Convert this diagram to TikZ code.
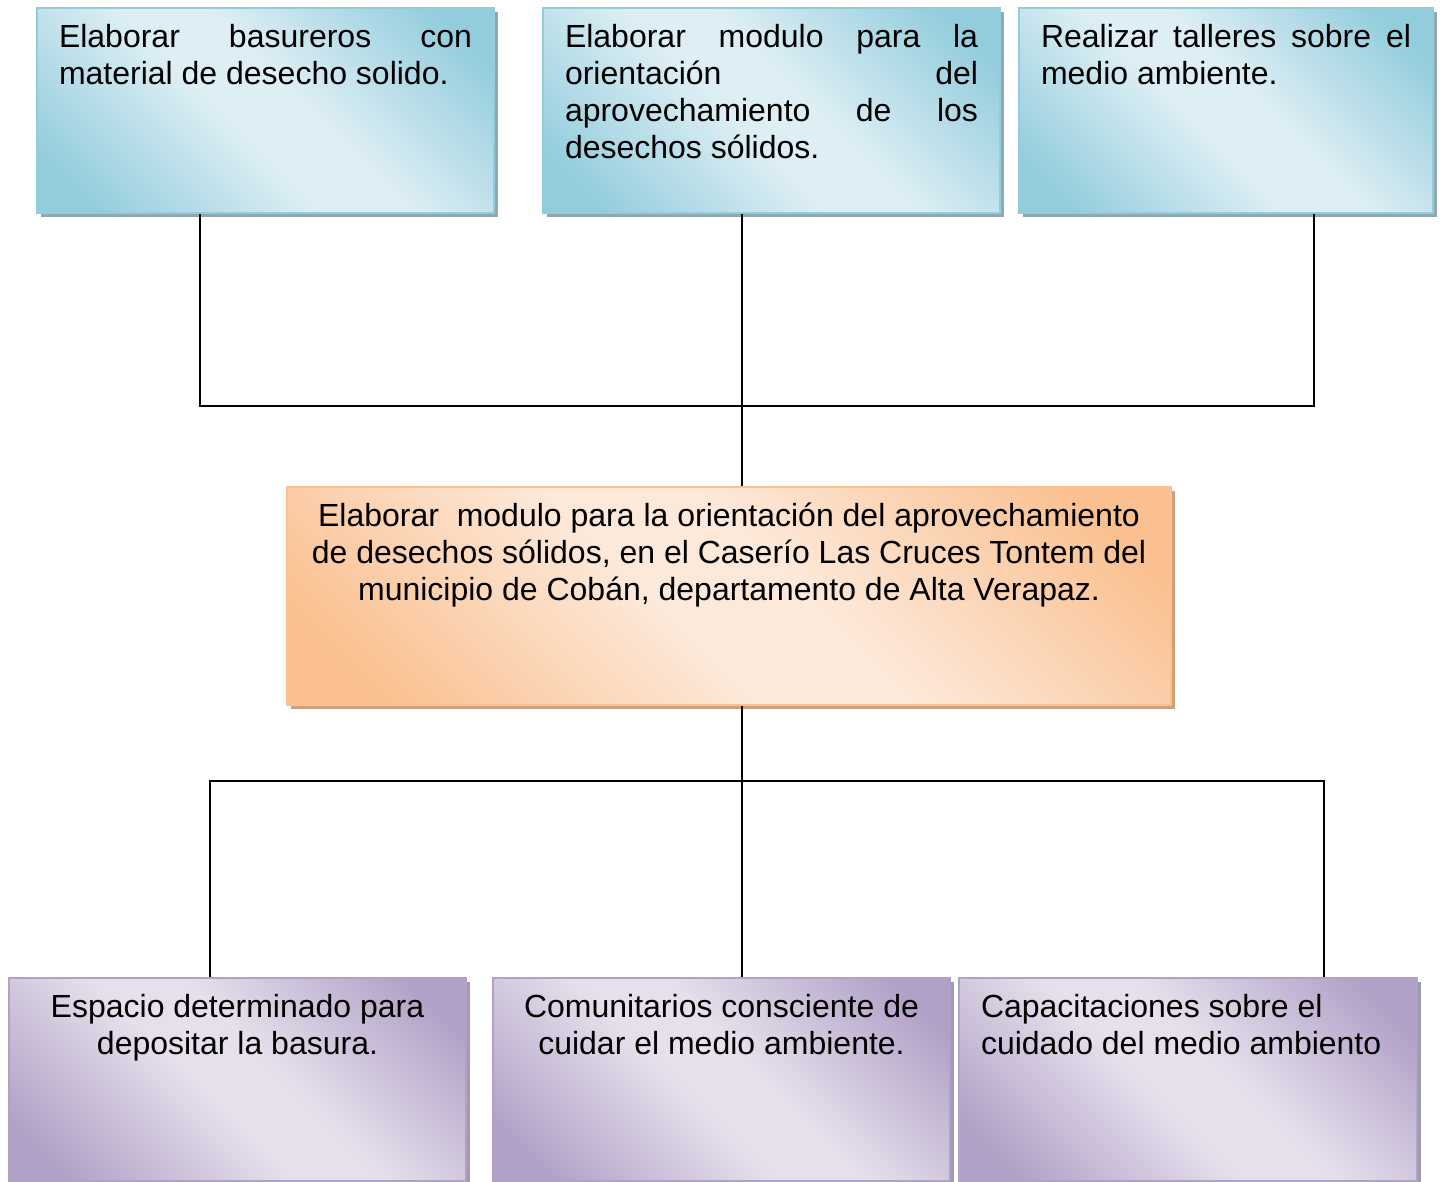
\documentclass[tikz,border=0pt]{standalone}
\usepackage{fontspec}
\setmainfont{Liberation Sans}
\usetikzlibrary{shadows}
\definecolor{bdark}{HTML}{93CDDD}
\definecolor{blight}{HTML}{DDEEF4}
\definecolor{bshadow}{HTML}{8FA8B2}
\definecolor{odark}{HTML}{FAC090}
\definecolor{olight}{HTML}{FDE9DA}
\definecolor{oshadow}{HTML}{CDA07E}
\definecolor{pdark}{HTML}{B2A1C7}
\definecolor{plight}{HTML}{E5E0EC}
\definecolor{pshadow}{HTML}{A29BAD}
\pgfdeclareverticalshading{blueshade}{100bp}{color(0bp)=(bdark); color(21bp)=(bdark); color(45bp)=(blight); color(55bp)=(blight); color(79bp)=(bdark); color(100bp)=(bdark)}
\pgfdeclareverticalshading{orangeshade}{100bp}{color(0bp)=(odark); color(21bp)=(odark); color(45bp)=(olight); color(55bp)=(olight); color(79bp)=(odark); color(100bp)=(odark)}
\pgfdeclareverticalshading{purpleshade}{100bp}{color(0bp)=(pdark); color(21bp)=(pdark); color(45bp)=(plight); color(55bp)=(plight); color(79bp)=(pdark); color(100bp)=(pdark)}
\newcommand\boxtxt[3]{\parbox[t][#1][t]{#2}{\fontsize{16pt}{18.5pt}\selectfont\leavevmode\strut#3}}
\newcommand\jline[1]{\makebox[\linewidth][s]{#1}}
\tikzset{
  box/.style={rectangle, inner xsep=11pt, inner ysep=7pt, anchor=north west, line width=1pt},
  bluebox/.style={box, draw=bdark, shade, shading=blueshade, shading angle=-45,
    drop shadow={shadow xshift=2pt, shadow yshift=-2pt, fill=bshadow, opacity=1}},
  orangebox/.style={box, draw=odark, shade, shading=orangeshade, shading angle=-45,
    drop shadow={shadow xshift=2pt, shadow yshift=-2pt, fill=oshadow, opacity=1}},
  purplebox/.style={box, draw=pdark, shade, shading=purpleshade, shading angle=-45,
    drop shadow={shadow xshift=2pt, shadow yshift=-2pt, fill=pshadow, opacity=1}},
  conn/.style={draw=black, line width=0.8pt}
}
\begin{document}
\begin{tikzpicture}[x=0.5pt,y=-0.5pt]
\useasboundingbox[fill=white] (0,0) rectangle (1440,1182);
% junction coordinates
\coordinate (c1) at (200,406);
\coordinate (c3) at (1314,406);
\coordinate (ja) at (742,406);
\coordinate (d1) at (210,781);
\coordinate (d3) at (1324,781);
\coordinate (jb) at (742,781);
% boxes
\node[bluebox] (t1) at (36,7) {\boxtxt{88.5pt}{206.5pt}{\jline{Elaborar basureros con}\\material de desecho solido.}};
\node[bluebox] (t2) at (542,7) {\boxtxt{88.5pt}{206.5pt}{\jline{Elaborar modulo para la}\\\jline{orientación del}\\\jline{aprovechamiento de los}\\desechos sólidos.}};
\node[bluebox] (t3) at (1018,7) {\boxtxt{88.5pt}{185pt}{\jline{Realizar talleres sobre el}\\medio ambiente.}};
\node[orangebox] (mid) at (286,486) {\boxtxt{95pt}{420pt}{\centering Elaborar\ \ modulo para la orientación del aprovechamiento\\de desechos sólidos, en el Caserío Las Cruces Tontem del\\municipio de Cobán, departamento de Alta Verapaz.}};
\node[purplebox] (b1) at (8,977) {\boxtxt{87.5pt}{206.5pt}{\centering Espacio determinado para\\depositar la basura.}};
\node[purplebox] (b2) at (492,977) {\boxtxt{87.5pt}{206.5pt}{\centering Comunitarios consciente de\\cuidar el medio ambiente.}};
\node[purplebox] (b3) at (958,977) {\boxtxt{87.5pt}{207pt}{Capacitaciones sobre el\\cuidado del medio ambiento}};
% connectors
\draw[conn] (t1.south -| c1) -- (c1) -- (c3) -- (t3.south -| c3);
\draw[conn] (t2.south -| ja) -- (mid.north -| ja);
\draw[conn] (b1.north -| d1) -- (d1) -- (d3) -- (b3.north -| d3);
\draw[conn] (mid.south -| jb) -- (b2.north -| jb);
\end{tikzpicture}
\end{document}
